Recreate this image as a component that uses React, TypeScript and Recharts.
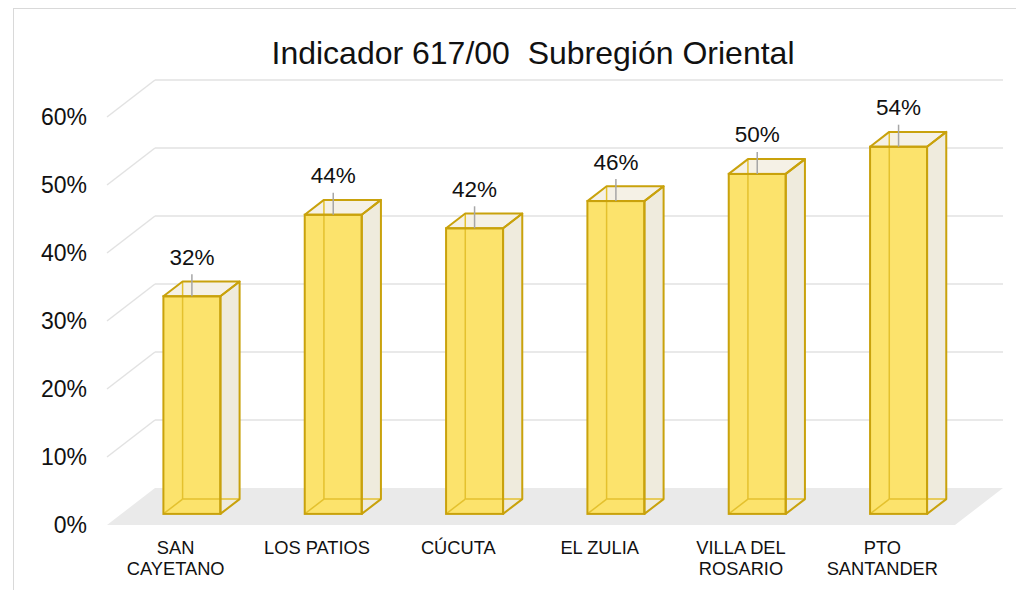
import React from 'react';
import { BarChart, Bar, XAxis, YAxis, CartesianGrid, LabelList } from 'recharts';

// ---------- data ----------
const categories = ['SAN CAYETANO', 'LOS PATIOS', 'CÚCUTA', 'EL ZULIA', 'VILLA DEL ROSARIO', 'PTO SANTANDER'];
const categoryLines = [['SAN', 'CAYETANO'], ['LOS PATIOS'], ['CÚCUTA'], ['EL ZULIA'], ['VILLA DEL', 'ROSARIO'], ['PTO', 'SANTANDER']];
const values = [32, 44, 42, 46, 50, 54];
const yTicks = [0, 10, 20, 30, 40, 50, 60];
const title = 'Indicador 617/00  Subregión Oriental';

const data = categories.map((name, i) => ({ name, value: values[i], lines: categoryLines[i] }));

// ---------- style / layout ----------
const FONT = '"Liberation Sans", Arial, Helvetica, sans-serif';
const W = 1016;
const H = 590;
const DEPTH_X = 48;
const DEPTH_Y = 37;
const FRONT = 0.3; // bar front plane position within floor depth
const BAR_DEPTH = 0.4;
const FX = DEPTH_X * FRONT;
const FY = DEPTH_Y * FRONT;
const BX = DEPTH_X * (1 - FRONT);
const BY = DEPTH_Y * (1 - FRONT);
const BDX = DEPTH_X * BAR_DEPTH;
const BDY = DEPTH_Y * BAR_DEPTH;

const MARGIN = { top: 105.9, right: 46.6, bottom: 16.1, left: 0 };
const X_AXIS_H = 60;
const Y_AXIS_W = 121.4;
const PLOT_BOTTOM = H - MARGIN.bottom - X_AXIS_H;

const GOLD = '#C9A20C';
const GOLD_INNER = '#E4C12E';
const FRONT_FILL = '#FCE36C';
const SIDE_FILL = '#EFEBDD';
const TOP_FILL = '#F5F1E6';
const GRID = '#E2E2E2';
const FLOOR = '#EAEAEA';
const TEXT = '#111111';

const GridLine = (p: any) => {
  const { x1, x2, y1 } = p;
  if (Math.abs(y1 - PLOT_BOTTOM) < 0.6) {
    const pts = [
      [x1 - FX, y1 + FY],
      [x2 - FX, y1 + FY],
      [x2 + BX, y1 - BY],
      [x1 + BX, y1 - BY],
    ]
      .map((q) => q.join(','))
      .join(' ');
    return <polygon key={p.key} points={pts} fill={FLOOR} stroke="none" />;
  }
  return (
    <g key={p.key}>
      <line x1={x1 - FX} y1={y1 + FY} x2={x1 + BX} y2={y1 - BY} stroke={GRID} strokeWidth={1.5} />
      <line x1={x1 + BX} y1={y1 - BY} x2={x2 + BX} y2={y1 - BY} stroke={GRID} strokeWidth={1.5} />
    </g>
  );
};

const Box3D = (p: any) => {
  const { x, y, width: w, height: h } = p;
  if (h == null || w == null) return null;
  const b = y + h;
  const side = `${x + w},${y} ${x + w + BDX},${y - BDY} ${x + w + BDX},${b - BDY} ${x + w},${b}`;
  const top = `${x},${y} ${x + BDX},${y - BDY} ${x + w + BDX},${y - BDY} ${x + w},${y}`;
  return (
    <g>
      <polygon points={side} fill={SIDE_FILL} stroke="none" />
      <rect x={x} y={y} width={w} height={h} fill={FRONT_FILL} stroke="none" />
      <polygon points={top} fill={TOP_FILL} stroke="none" />
      {/* hidden edges seen through the translucent box */}
      <line x1={x + BDX} y1={y - BDY} x2={x + BDX} y2={b - BDY} stroke={GOLD_INNER} strokeWidth={1.5} />
      <line x1={x + BDX} y1={b - BDY} x2={x + w + BDX} y2={b - BDY} stroke={GOLD_INNER} strokeWidth={1.5} />
      <line x1={x} y1={b} x2={x + BDX} y2={b - BDY} stroke={GOLD_INNER} strokeWidth={1.5} />
      {/* visible outlines */}
      <polygon points={side} fill="none" stroke={GOLD} strokeWidth={2} strokeLinejoin="round" />
      <polygon points={top} fill="none" stroke={GOLD} strokeWidth={2} strokeLinejoin="round" />
      <rect x={x} y={y} width={w} height={h} fill="none" stroke={GOLD} strokeWidth={2} />
    </g>
  );
};

const ValueLabel = (p: any) => {
  const { x, y, width, value } = p;
  const cx = x + width / 2;
  return (
    <g>
      <line x1={cx} y1={y - 22} x2={cx} y2={y} stroke="#A6A6A6" strokeWidth={1.5} />
      <text x={cx} y={y - 39} textAnchor="middle" dominantBaseline="central" fontFamily={FONT} fontSize={22.5} fill={TEXT}>
        {`${value}%`}
      </text>
    </g>
  );
};

const YTick = (p: any) => (
  <text x={p.x - FX - 20} y={p.y + FY} textAnchor="end" dominantBaseline="central" fontFamily={FONT} fontSize={23} fill={TEXT}>
    {`${p.payload.value}%`}
  </text>
);

const XTick = (p: any) => {
  const idx = categories.indexOf(p.payload.value);
  const lines = categoryLines[idx] || [p.payload.value];
  const cx = p.x - FX - 2;
  return (
    <text x={cx} y={p.y + 40.5} textAnchor="middle" fontFamily={FONT} fontSize={18.3} fill={TEXT}>
      {lines.map((l, i) => (
        <tspan key={i} x={cx} dy={i === 0 ? 0 : 21}>
          {l}
        </tspan>
      ))}
    </text>
  );
};

export default function App() {
  return (
    <div style={{ position: 'absolute', left: 0, top: 0, width: W, height: H, background: '#fff', overflow: 'hidden' }}>
      <div
        style={{
          position: 'absolute',
          left: 13,
          top: 8,
          width: W + 20,
          height: H + 20,
          border: '1px solid #D9D9D9',
          boxSizing: 'border-box',
        }}
      />
      <BarChart width={W} height={H} data={data} margin={MARGIN} style={{ position: 'absolute', left: 0, top: 0 }}>
        <CartesianGrid vertical={false} horizontal={GridLine} />
        <XAxis
          dataKey="name"
          height={X_AXIS_H}
          axisLine={false}
          tickLine={false}
          tickSize={0}
          tickMargin={0}
          interval={0}
          tick={XTick}
        />
        <YAxis
          width={Y_AXIS_W}
          domain={[0, 60]}
          ticks={yTicks}
          axisLine={false}
          tickLine={false}
          tickSize={0}
          tickMargin={0}
          tick={YTick}
        />
        <Bar dataKey="value" barSize={57} shape={Box3D} isAnimationActive={false}>
          <LabelList dataKey="value" content={ValueLabel} />
        </Bar>
      </BarChart>
      <div
        style={{
          position: 'absolute',
          left: 0,
          width: 1066,
          top: 37.3,
          textAlign: 'center',
          fontFamily: FONT,
          fontSize: 32,
          lineHeight: '32px',
          color: TEXT,
          whiteSpace: 'pre',
          pointerEvents: 'none',
        }}
      >
        {title}
      </div>
    </div>
  );
}
